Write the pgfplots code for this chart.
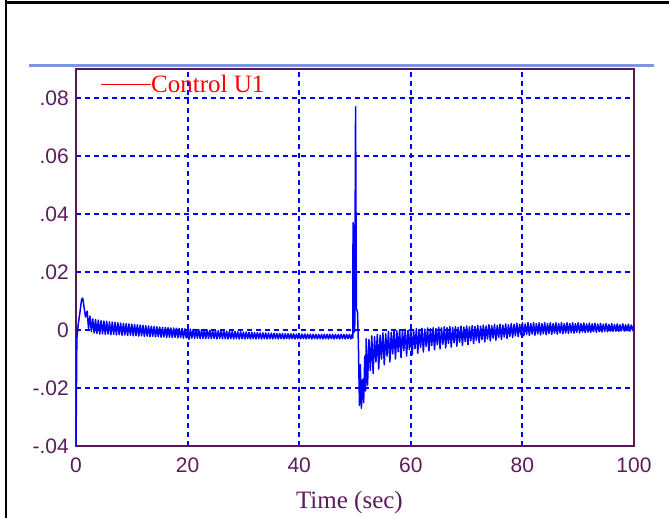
\documentclass[border=0pt]{standalone}
\usepackage{pgfplots}
\pgfplotsset{compat=1.18}
\usepackage{fontspec}
\setmainfont{Liberation Serif}
\newfontfamily\sansf{Liberation Sans}
\definecolor{axpurple}{RGB}{88,24,88}
\definecolor{tickpurple}{RGB}{92,28,92}
\definecolor{lightblue}{RGB}{125,150,220}
\begin{document}
\begin{tikzpicture}
\path[use as bounding box] (0pt,0pt) rectangle (669pt,518pt);
\begin{axis}[
  at={(76pt,72pt)}, anchor=south west,
  width=558pt, height=377pt, scale only axis,
  xmin=0, xmax=100, ymin=-0.04, ymax=0.09,
  scaled y ticks=false, scaled x ticks=false,
  axis line style={axpurple, line width=2pt},
  major tick length=0pt,
  xtick={0,20,40,60,80,100}, xticklabels={0,20,40,60,80,100},
  ytick={-0.04,-0.02,0,0.02,0.04,0.06,0.08},
  yticklabels={-.04,-.02,0,.02,.04,.06,.08},
  xticklabel style={font=\sansf\fontsize{21}{21}\selectfont, text=tickpurple, inner sep=0pt, anchor=north, yshift=-12pt},
  yticklabel style={font=\sansf\fontsize{21}{21}\selectfont, text=tickpurple, inner sep=0pt, anchor=east, xshift=-7pt},
  grid=major,
  major grid style={blue, dash pattern=on 5pt off 4pt, line width=2pt},
  xlabel={Time (sec)},
  xlabel style={at={(rel axis cs:0.49,0)}, anchor=center, yshift=-56pt, inner sep=0pt, font=\fontsize{25}{25}\selectfont, text=tickpurple},
  legend style={draw=none, fill=none, at={(rel axis cs:0.043,0.958)}, anchor=west, inner sep=0pt, outer sep=0pt, font=\fontsize{25}{25}\selectfont, text=red, nodes={inner sep=0pt}},
  legend image code/.code={\draw[red, line width=1.2pt] (0pt,0pt) -- (50pt,0pt);},
]
\addplot[blue, line width=1.5pt, line join=round] coordinates {
(0,-0.040)(0.15,-0.003)(0.4,0.002)(0.7,0.006)(1.0,0.0105)(1.2,0.011)(1.4,0.0085)(1.7,0.0045)
(2.0,0.0065)(2.25,0.0005)(2.5,0.0048)(2.75,-0.0005)(3.0,0.0038)(3.25,-0.0010)(3.5,0.0036)(3.75,-0.0012)
(4.0,0.0034)(4.25,-0.0014)(4.5,0.0032)(4.75,-0.0013)(5.0,0.0031)(5.25,-0.0015)(5.5,0.0030)(5.75,-0.0014)
(6.0,0.0028)(6.25,-0.0016)(6.5,0.0027)(6.75,-0.0015)(7.0,0.0026)(7.25,-0.0017)(7.5,0.0025)(7.75,-0.0016)
(8.0,0.0024)(8.25,-0.0018)(8.5,0.0023)(8.75,-0.0017)(9.0,0.0022)(9.25,-0.0019)(9.5,0.0021)(9.75,-0.0018)
(10.0,0.0020)(10.25,-0.0020)(10.5,0.0019)(10.75,-0.0019)(11.0,0.0018)(11.25,-0.0021)(11.5,0.0017)(11.75,-0.0020)
(12.0,0.0016)(12.25,-0.0022)(12.5,0.0015)(12.75,-0.0021)(13.0,0.0014)(13.25,-0.0023)(13.5,0.0013)(13.75,-0.0022)
(14.0,0.0012)(14.25,-0.0024)(14.5,0.0011)(14.75,-0.0023)(15.0,0.0010)(15.25,-0.0025)(15.5,0.0009)(15.75,-0.0024)
(16.0,0.0009)(16.25,-0.0026)(16.5,0.0008)(16.75,-0.0025)(17.0,0.0007)(17.25,-0.0026)(17.5,0.0007)(17.75,-0.0025)
(18.0,0.0006)(18.25,-0.0027)(18.5,0.0005)(18.75,-0.0026)(19.0,0.0005)(19.25,-0.0028)(19.5,0.0004)(19.75,-0.0027)
(20.0,0.0003)(20.25,-0.0032)(20.5,0.0003)(20.75,-0.0028)(21.0,0.0002)(21.25,-0.0029)(21.5,0.0002)(21.75,-0.0028)
(22.0,0.0001)(22.25,-0.0030)(22.5,0.0001)(22.75,-0.0029)(23.0,0.0000)(23.25,-0.0030)(23.5,0.0000)(23.75,-0.0029)
(24.0,-0.0001)(24.25,-0.0030)(24.5,-0.0001)(24.75,-0.0029)(25.0,-0.0002)(25.25,-0.0031)(25.5,-0.0002)(25.75,-0.0029)
(26.0,-0.0003)(26.25,-0.0030)(26.5,-0.0003)(26.75,-0.0030)(27.0,-0.0004)(27.25,-0.0031)(27.5,-0.0004)(27.75,-0.0030)
(28.0,-0.0005)(28.25,-0.0031)(28.5,-0.0005)(28.75,-0.0030)(29.0,-0.0006)(29.25,-0.0031)(29.5,-0.0006)(29.75,-0.0030)
(30.0,-0.0007)(30.25,-0.0031)(30.5,-0.0007)(30.75,-0.0030)(31.0,-0.0008)(31.25,-0.0031)(31.5,-0.0008)(31.75,-0.0030)
(32.0,-0.0009)(32.25,-0.0031)(32.5,-0.0009)(32.75,-0.0030)(33.0,-0.0010)(33.25,-0.0031)(33.5,-0.0010)(33.75,-0.0030)
(34.0,-0.0010)(34.25,-0.0031)(34.5,-0.0011)(34.75,-0.0030)(35.0,-0.0011)(35.25,-0.0031)(35.5,-0.0011)(35.75,-0.0030)
(36.0,-0.0012)(36.25,-0.0031)(36.5,-0.0012)(36.75,-0.0030)(37.0,-0.0012)(37.25,-0.0031)(37.5,-0.0013)(37.75,-0.0030)
(38.0,-0.0013)(38.25,-0.0031)(38.5,-0.0013)(38.75,-0.0030)(39.0,-0.0013)(39.25,-0.0031)(39.5,-0.0014)(39.75,-0.0030)
(40.0,-0.0014)(40.25,-0.0031)(40.5,-0.0014)(40.75,-0.0030)(41.0,-0.0014)(41.25,-0.0031)(41.5,-0.0014)(41.75,-0.0030)
(42.0,-0.0014)(42.25,-0.0031)(42.5,-0.0015)(42.75,-0.0030)(43.0,-0.0015)(43.25,-0.0031)(43.5,-0.0015)(43.75,-0.0030)
(44.0,-0.0015)(44.25,-0.0031)(44.5,-0.0015)(44.75,-0.0030)(45.0,-0.0015)(45.25,-0.0031)(45.5,-0.0015)(45.75,-0.0030)
(46.0,-0.0015)(46.25,-0.0031)(46.5,-0.0015)(46.75,-0.0030)(47.0,-0.0015)(47.25,-0.0031)(47.5,-0.0015)(47.75,-0.0030)
(48.0,-0.0015)(48.25,-0.0031)(48.5,-0.0015)(48.75,-0.0030)(49.0,-0.0015)(49.25,-0.0031)(49.5,-0.0015)
(49.6,-0.0028)(49.65,0.037)(49.75,-0.001)(49.85,0.036)(49.95,-0.0005)(50.1,0.077)(50.25,0.0075)
(50.45,0.006)(50.6,-0.004)(50.8,-0.026)(50.95,-0.012)(51.15,-0.027)(51.35,-0.017)(51.55,-0.025)(51.75,-0.009)(51.9,-0.021)
(52.0,-0.0030)(52.25,-0.0190)(52.5,-0.0033)(52.75,-0.0140)
(53.0,-0.0020)(53.25,-0.0150)(53.5,-0.0023)(53.75,-0.0110)
(54.0,-0.0015)(54.25,-0.0135)(54.5,-0.0018)(54.75,-0.0100)
(55.0,-0.0010)(55.25,-0.0120)(55.5,-0.0013)(55.75,-0.0090)
(56.0,-0.0005)(56.25,-0.0110)(56.5,-0.0008)(56.75,-0.0082)
(57.0,0.0000)(57.25,-0.0100)(57.5,-0.0003)(57.75,-0.0075)
(58.0,0.0001)(58.25,-0.0095)(58.5,-0.0002)(58.75,-0.0071)
(59.0,0.0002)(59.25,-0.0090)(59.5,-0.0001)(59.75,-0.0068)
(60.0,0.0003)(60.25,-0.0085)(60.5,0.0000)(60.75,-0.0064)
(61.0,0.0005)(61.25,-0.0080)(61.5,0.0002)(61.75,-0.0060)
(62.0,0.0006)(62.25,-0.0076)(62.5,0.0003)(62.75,-0.0057)
(63.0,0.0007)(63.25,-0.0072)(63.5,0.0004)(63.75,-0.0054)
(64.0,0.0008)(64.25,-0.0068)(64.5,0.0005)(64.75,-0.0051)
(65.0,0.0010)(65.25,-0.0065)(65.5,0.0007)(65.75,-0.0049)
(66.0,0.0011)(66.25,-0.0062)(66.5,0.0008)(66.75,-0.0046)
(67.0,0.0012)(67.25,-0.0059)(67.5,0.0009)(67.75,-0.0044)
(68.0,0.0012)(68.25,-0.0056)(68.5,0.0009)(68.75,-0.0042)
(69.0,0.0013)(69.25,-0.0053)(69.5,0.0010)(69.75,-0.0040)
(70.0,0.0014)(70.25,-0.0050)(70.5,0.0011)(70.75,-0.0037)
(71.0,0.0015)(71.25,-0.0047)(71.5,0.0012)(71.75,-0.0035)
(72.0,0.0016)(72.25,-0.0044)(72.5,0.0013)(72.75,-0.0033)
(73.0,0.0017)(73.25,-0.0041)(73.5,0.0014)(73.75,-0.0031)
(74.0,0.0018)(74.25,-0.0038)(74.5,0.0015)(74.75,-0.0028)
(75.0,0.0019)(75.25,-0.0035)(75.5,0.0016)(75.75,-0.0026)
(76.0,0.0020)(76.25,-0.0032)(76.5,0.0017)(76.75,-0.0024)
(77.0,0.0021)(77.25,-0.0029)(77.5,0.0018)(77.75,-0.0022)
(78.0,0.0022)(78.25,-0.0026)(78.5,0.0019)(78.75,-0.0020)
(79.0,0.0023)(79.25,-0.0023)(79.5,0.0020)(79.75,-0.0017)
(80.0,0.0025)(80.25,-0.0020)(80.5,0.0021)(80.75,-0.0015)
(81.0,0.0025)(81.25,-0.0019)(81.5,0.0022)(81.75,-0.0014)
(82.0,0.0025)(82.25,-0.0018)(82.5,0.0022)(82.75,-0.0013)
(83.0,0.0025)(83.25,-0.0017)(83.5,0.0022)(83.75,-0.0013)
(84.0,0.0025)(84.25,-0.0016)(84.5,0.0022)(84.75,-0.0012)
(85.0,0.0025)(85.25,-0.0015)(85.5,0.0022)(85.75,-0.0011)
(86.0,0.0025)(86.25,-0.0014)(86.5,0.0022)(86.75,-0.0010)
(87.0,0.0025)(87.25,-0.0013)(87.5,0.0022)(87.75,-0.0010)
(88.0,0.0025)(88.25,-0.0012)(88.5,0.0022)(88.75,-0.0009)
(89.0,0.0025)(89.25,-0.0011)(89.5,0.0022)(89.75,-0.0008)
(90.0,0.0025)(90.25,-0.0010)(90.5,0.0022)(90.75,-0.0007)
(91.0,0.0024)(91.25,-0.0009)(91.5,0.0021)(91.75,-0.0007)
(92.0,0.0024)(92.25,-0.0008)(92.5,0.0021)(92.75,-0.0006)
(93.0,0.0023)(93.25,-0.0008)(93.5,0.0020)(93.75,-0.0006)
(94.0,0.0023)(94.25,-0.0007)(94.5,0.0020)(94.75,-0.0005)
(95.0,0.0022)(95.25,-0.0006)(95.5,0.0019)(95.75,-0.0004)
(96.0,0.0022)(96.25,-0.0005)(96.5,0.0019)(96.75,-0.0004)
(97.0,0.0021)(97.25,-0.0005)(97.5,0.0018)(97.75,-0.0003)
(98.0,0.0021)(98.25,-0.0004)(98.5,0.0018)(98.75,-0.0003)
(99.0,0.0020)(99.25,-0.0004)(99.5,0.0017)(99.75,-0.0002)
(100.0,0.0020)
};
\addlegendentry{Control U1}
\end{axis}
\draw[black, line width=2.7pt] (6pt,0pt) -- (6pt,518pt);
\draw[black, line width=3pt] (4.65pt,515.5pt) -- (669pt,515.5pt);
\draw[lightblue, line width=3pt] (29pt,452pt) -- (654pt,452pt);
\end{tikzpicture}
\end{document}
